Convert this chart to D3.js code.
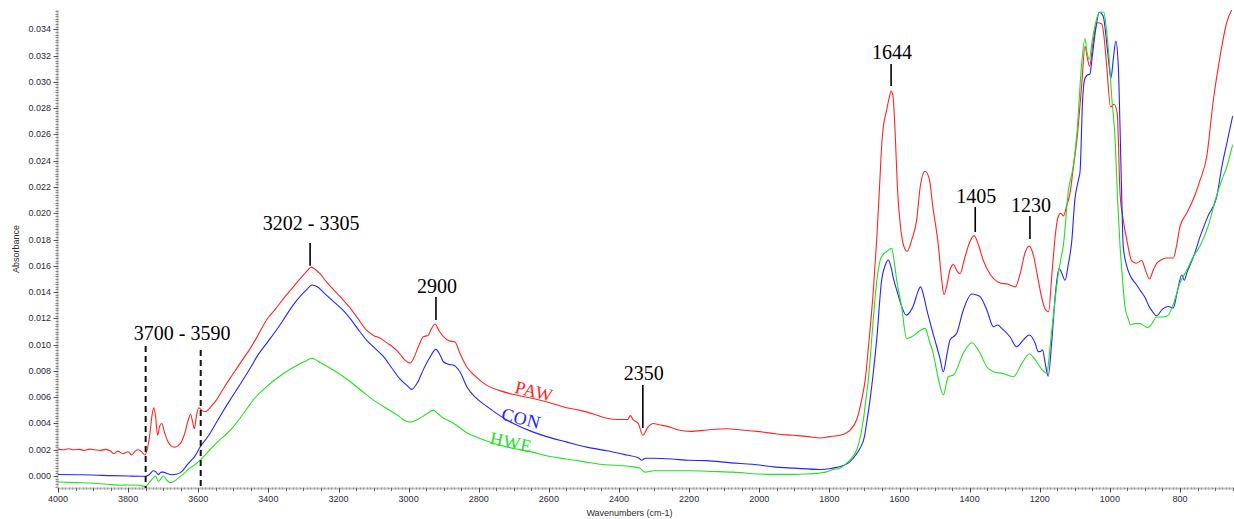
<!DOCTYPE html>
<html>
<head>
<meta charset="utf-8">
<script src="https://cdn.jsdelivr.net/npm/d3@7"></script>
<style>
body { margin: 0; background: #fff; }
svg { display: block; }
</style>
</head>
<body>
<div id="chart"></div>
<script>
// spectra: [wavenumber, absorbance]
var paw = [
  [4000,0.00205],[3985,0.0020],[3970,0.00208],[3955,0.0020],[3940,0.00203],[3925,0.00195],[3910,0.00205],
  [3895,0.0020],[3880,0.00195],[3865,0.00203],[3850,0.0019],[3840,0.0017],[3830,0.0019],[3815,0.0017],
  [3800,0.00185],[3790,0.0016],[3780,0.0019],[3770,0.0020],[3760,0.0018],[3752,0.0016],[3746,0.0020],
  [3738,0.0032],[3732,0.0046],[3727,0.0052],[3722,0.0046],[3716,0.0031],[3710,0.0038],[3704,0.0040],
  [3697,0.0034],[3688,0.0027],[3678,0.0023],[3668,0.0022],[3658,0.0023],[3648,0.0026],[3638,0.0033],
  [3628,0.0043],[3622,0.0047],[3616,0.0041],[3611,0.0036],[3605,0.0046],[3598,0.0052],[3590,0.0050],
  [3580,0.0049],[3570,0.0051],[3560,0.0054],[3548,0.0058],[3525,0.0068],[3500,0.0078],[3475,0.0088],
  [3452,0.0097],[3430,0.0107],[3405,0.0119],[3380,0.0127],[3357,0.0135],[3335,0.0142],[3310,0.0150],
  [3290,0.0156],[3278,0.0159],[3265,0.0157],[3253,0.0154],[3235,0.0148],[3215,0.0142],[3190,0.0135],
  [3167,0.0128],[3145,0.0120],[3120,0.0111],[3100,0.0107],[3082,0.0105],[3060,0.0101],[3044,0.0098],
  [3025,0.0093],[3010,0.0088],[2996,0.0086],[2985,0.0090],[2970,0.0100],[2958,0.0106],[2945,0.0107],
  [2935,0.0112],[2925,0.01157],[2912,0.0110],[2900,0.0106],[2885,0.0103],[2868,0.0102],[2853,0.0093],
  [2834,0.0083],[2810,0.0076],[2777,0.0069],[2740,0.0065],[2700,0.0062],[2645,0.0059],[2600,0.0056],
  [2550,0.0052],[2511,0.0050],[2470,0.0047],[2435,0.0044],[2400,0.0043],[2375,0.0043],[2368,0.0046],
  [2360,0.0043],[2345,0.0040],[2332,0.0031],[2318,0.0037],[2302,0.0040],[2285,0.0039],[2264,0.0038],
  [2230,0.0035],[2197,0.0034],[2150,0.0035],[2093,0.0036],[2050,0.0035],[2007,0.0034],[1950,0.0032],
  [1903,0.0031],[1860,0.0030],[1827,0.0029],[1800,0.0030],[1770,0.0031],[1741,0.0035],[1722,0.0043],
  [1708,0.0058],[1698,0.0073],[1688,0.0100],[1675,0.0140],[1665,0.0180],[1657,0.0220],[1650,0.0255],
  [1645,0.0268],[1638,0.0277],[1630,0.0287],[1624,0.0293],[1619,0.0290],[1613,0.0265],[1606,0.0220],
  [1595,0.0185],[1585,0.0173],[1578,0.0171],[1565,0.0180],[1551,0.0195],[1541,0.0220],[1527,0.0232],
  [1515,0.0226],[1505,0.0205],[1489,0.0175],[1480,0.0150],[1473,0.0138],[1465,0.0145],[1455,0.0158],
  [1446,0.0161],[1436,0.0156],[1427,0.0154],[1415,0.0165],[1400,0.0178],[1387,0.0183],[1375,0.0176],
  [1361,0.0164],[1340,0.0153],[1313,0.0147],[1290,0.0146],[1270,0.0144],[1255,0.0155],[1242,0.0170],
  [1230,0.0175],[1218,0.0168],[1205,0.0150],[1192,0.0133],[1182,0.0126],[1175,0.0125],[1165,0.0155],
  [1155,0.0185],[1148,0.0197],[1140,0.0200],[1132,0.0198],[1124,0.0205],[1114,0.0215],[1104,0.0235],
  [1094,0.0256],[1080,0.0299],[1071,0.0327],[1064,0.0318],[1058,0.0312],[1047,0.0332],[1036,0.0345],
  [1023,0.0344],[1015,0.0330],[1009,0.0312],[998,0.0281],[988,0.0283],[979,0.0276],[971,0.0215],
  [962,0.0195],[952,0.0180],[938,0.0164],[925,0.0162],[909,0.0164],[900,0.0158],[887,0.0150],
  [876,0.0157],[866,0.0162],[857,0.0164],[840,0.0166],[819,0.0166],[810,0.0175],[800,0.0190],
  [781,0.0200],[760,0.0212],[743,0.0225],[724,0.0243],[705,0.0286],[686,0.0319],[667,0.0345],[650,0.0356]
];
var con = [
  [4000,0.00012],[3950,0.0001],[3900,0.00008],[3850,0.00003],[3800,0.0000],[3750,-0.00002],[3740,0.0001],
  [3728,0.0004],[3720,0.0003],[3714,0.0001],[3706,0.0003],[3700,0.0003],[3690,0.0002],[3675,0.0001],
  [3660,0.00015],[3645,0.0004],[3630,0.0009],[3620,0.0012],[3610,0.0015],[3595,0.0022],[3570,0.0031],
  [3550,0.0040],[3530,0.0049],[3509,0.0058],[3480,0.0070],[3452,0.0082],[3430,0.0092],[3405,0.0101],
  [3380,0.0110],[3357,0.0119],[3335,0.0128],[3310,0.01365],[3290,0.0142],[3276,0.01454],[3260,0.0144],
  [3240,0.0139],[3215,0.0133],[3190,0.0127],[3167,0.0120],[3145,0.0112],[3120,0.01035],[3095,0.0097],
  [3072,0.0091],[3050,0.0083],[3025,0.0074],[3005,0.0069],[2991,0.0066],[2975,0.0071],[2958,0.0081],
  [2940,0.0090],[2922,0.00964],[2910,0.0092],[2901,0.0087],[2885,0.0085],[2873,0.00845],[2853,0.0079],
  [2834,0.0068],[2810,0.0060],[2777,0.0053],[2740,0.0046],[2701,0.0040],[2650,0.0034],[2606,0.0030],
  [2550,0.0026],[2492,0.0022],[2430,0.0019],[2378,0.0016],[2345,0.0014],[2335,0.0012],[2325,0.00135],
  [2302,0.00135],[2250,0.0013],[2200,0.0012],[2150,0.00117],[2080,0.0010],[2020,0.0009],[1960,0.0007],
  [1900,0.0006],[1827,0.0005],[1800,0.00055],[1779,0.00066],[1760,0.0008],[1741,0.0011],[1725,0.0016],
  [1713,0.0021],[1700,0.0030],[1694,0.0040],[1684,0.0058],[1675,0.0078],[1665,0.0104],[1651,0.0149],
  [1640,0.0161],[1632,0.01644],[1625,0.0160],[1617,0.0150],[1608,0.01416],[1595,0.0130],[1581,0.01225],
  [1570,0.0125],[1560,0.0130],[1548,0.0140],[1540,0.0144],[1530,0.0136],[1522,0.01264],[1510,0.0114],
  [1499,0.01035],[1485,0.0090],[1475,0.00794],[1465,0.0092],[1456,0.01035],[1437,0.01086],[1418,0.01264],
  [1394,0.01385],[1382,0.0138],[1370,0.01365],[1351,0.01264],[1332,0.01136],[1320,0.0115],[1308,0.01124],
  [1285,0.0106],[1266,0.00984],[1247,0.01035],[1230,0.01073],[1213,0.0101],[1205,0.0095],[1199,0.00946],
  [1192,0.0096],[1184,0.0085],[1176,0.0076],[1165,0.0105],[1155,0.0140],[1145,0.0158],[1138,0.0155],
  [1128,0.0149],[1118,0.0162],[1109,0.0178],[1100,0.0210],[1090,0.0225],[1085,0.0232],[1078,0.0285],
  [1072,0.0302],[1065,0.0305],[1057,0.0306],[1050,0.0320],[1042,0.0337],[1030,0.0353],[1019,0.0350],
  [1010,0.0332],[1004,0.0317],[997,0.0303],[990,0.0318],[983,0.0331],[976,0.0312],[971,0.0265],
  [966,0.0210],[962,0.0175],[952,0.0160],[943,0.0153],[925,0.0146],[910,0.0140],[900,0.0136],
  [890,0.0130],[878,0.0125],[867,0.0122],[850,0.0127],[834,0.0129],[819,0.0128],[808,0.0140],
  [795,0.0153],[788,0.0149],[780,0.0155],[760,0.0168],[743,0.0182],[720,0.0198],[695,0.0213],
  [681,0.0235],[665,0.0255],[650,0.0274]
];
var hwe = [
  [4000,-0.00045],[3950,-0.0005],[3900,-0.00055],[3850,-0.00065],[3820,-0.0007],[3800,-0.00068],
  [3770,-0.0007],[3750,-0.0008],[3740,-0.0005],[3730,-0.0002],[3722,0.0000],[3714,-0.0004],[3706,-0.0002],
  [3700,0.0000],[3690,-0.0003],[3680,-0.0005],[3668,-0.0004],[3655,-0.0001],[3640,0.0002],[3625,0.0006],
  [3612,0.0008],[3595,0.0012],[3570,0.0019],[3545,0.0026],[3520,0.0032],[3500,0.00375],[3470,0.0048],
  [3443,0.0058],[3405,0.0068],[3357,0.0078],[3310,0.00855],[3290,0.0088],[3276,0.00896],[3250,0.0086],
  [3215,0.00807],[3167,0.0072],[3130,0.0064],[3101,0.0058],[3060,0.0051],[3025,0.0045],[3010,0.0042],
  [2996,0.0041],[2975,0.0043],[2950,0.0047],[2930,0.0050],[2915,0.0047],[2900,0.0044],[2877,0.0041],
  [2855,0.0037],[2834,0.0033],[2800,0.0029],[2758,0.0025],[2700,0.0021],[2644,0.0018],[2600,0.0015],
  [2550,0.0013],[2502,0.0011],[2454,0.0009],[2400,0.0008],[2359,0.0007],[2340,0.0006],[2326,0.0003],
  [2300,0.0004],[2264,0.0004],[2200,0.0004],[2130,0.00035],[2074,0.0003],[2000,0.00015],[1960,0.00013],
  [1900,0.00013],[1865,0.00015],[1836,0.0002],[1810,0.0003],[1789,0.0005],[1770,0.0006],[1750,0.0010],
  [1735,0.0014],[1722,0.0020],[1710,0.0032],[1703,0.0043],[1695,0.0060],[1689,0.0073],[1682,0.0095],
  [1675,0.0119],[1665,0.0148],[1655,0.01644],[1645,0.0169],[1636,0.0171],[1622,0.01733],[1615,0.0163],
  [1608,0.0149],[1594,0.0129],[1580,0.01048],[1565,0.0106],[1551,0.01086],[1540,0.0111],[1527,0.01124],
  [1515,0.0103],[1504,0.00934],[1490,0.0075],[1475,0.00617],[1461,0.00756],[1446,0.00769],[1418,0.00934],
  [1394,0.01015],[1370,0.00934],[1351,0.0083],[1332,0.00794],[1304,0.0078],[1275,0.00756],[1251,0.00858],
  [1230,0.00929],[1209,0.0087],[1194,0.0081],[1180,0.00782],[1170,0.0100],[1160,0.0125],[1152,0.0144],
  [1140,0.0165],[1133,0.0175],[1118,0.0218],[1105,0.0235],[1094,0.0261],[1081,0.0312],[1071,0.0333],
  [1065,0.0322],[1059,0.0317],[1050,0.0332],[1043,0.0342],[1030,0.0353],[1017,0.0353],[1010,0.0340],
  [1004,0.0324],[994,0.0286],[985,0.0256],[978,0.0210],[971,0.0175],[964,0.0150],[957,0.0129],
  [948,0.0120],[941,0.0115],[930,0.0116],[914,0.0116],[900,0.0114],[891,0.0113],[880,0.0116],
  [867,0.0121],[850,0.0121],[835,0.0122],[820,0.0130],[800,0.0147],[780,0.0157],[760,0.0168],
  [743,0.0175],[720,0.0190],[696,0.0213],[680,0.0226],[667,0.0235],[650,0.0252]
];

var xTicks = [4000,3800,3600,3400,3200,3000,2800,2600,2400,2200,2000,1800,1600,1400,1200,1000,800];
var yTicks = [0,0.002,0.004,0.006,0.008,0.010,0.012,0.014,0.016,0.018,0.020,0.022,0.024,0.026,0.028,0.030,0.032,0.034];

// peak marks: line from lo to hi (absorbance), label baseline at tv
var peaks = [
  {text:'3202 - 3305', wn:3281, lo:0.0160, hi:0.01773, tv:0.01872},
  {text:'2900', wn:2922, lo:0.01187, hi:0.01362, tv:0.01393},
  {text:'2350', wn:2332, lo:0.00365, hi:0.00693, tv:0.00731},
  {text:'1644', wn:1624, lo:0.02968, hi:0.03136, tv:0.03174},
  {text:'1405', wn:1384, lo:0.01857, hi:0.02048, tv:0.02078},
  {text:'1230', wn:1228, lo:0.01804, hi:0.01979, tv:0.0201}
];
var bandText = '3700 - 3590', bandTextWn = 3646, bandTextV = 0.01035;
var bandWn = [3750, 3593], bandTop = [0.0099, 0.0096];

var names = ['PAW','CON','HWE'];
var colors = ['#ff2424','#2424ff','#22e022'];
var labelWn = [2642, 2679, 2708], labelV = [0.00647, 0.00441, 0.00259], labelRot = [14, 14, 12];

var W = 1234, H = 519;
var padL = 58, padR = 1232.6, padT = 10, padB = 488;

var x = d3.scaleLinear().domain([4000, 650]).range([padL, padR]);
var y = d3.scaleLinear().domain([-0.00091, 0.03547]).range([padB, padT]);

var svg = d3.select('#chart').append('svg').attr('width', W).attr('height', H);

svg.append('defs').append('clipPath').attr('id', 'plot')
  .append('rect').attr('x', padL).attr('y', padT).attr('width', W - padL).attr('height', padB - padT);

// axes
var axisColor = '#9a9a9a', textColor = '#2a2a35';
var sans = '9px "Liberation Sans", Arial, sans-serif';

var yax = svg.append('g').attr('class', 'yaxis');
yax.append('line').attr('x1', padL - 0.5).attr('x2', padL - 0.5).attr('y1', padT).attr('y2', padB)
  .attr('stroke', '#c4c4c4').attr('stroke-width', 2);
yax.selectAll('line.minor').data(d3.range(-0.0008, 0.0355, 0.0002)).enter().append('line')
  .attr('class', 'minor')
  .attr('x1', padL - 2.5).attr('x2', padL + 0.5)
  .attr('y1', function(d){ return Math.round(y(d)) + 0.5; })
  .attr('y2', function(d){ return Math.round(y(d)) + 0.5; })
  .attr('stroke', '#8a8a8a').attr('stroke-width', 1);
yax.selectAll('line.major').data(yTicks).enter().append('line')
  .attr('class', 'major')
  .attr('x1', padL - 4.5).attr('x2', padL)
  .attr('y1', function(d){ return Math.round(y(d)) + 0.5; })
  .attr('y2', function(d){ return Math.round(y(d)) + 0.5; })
  .attr('stroke', '#555').attr('stroke-width', 1);
yax.selectAll('text').data(yTicks).enter().append('text')
  .attr('x', padL - 7).attr('y', function(d){ return y(d) + 3; })
  .attr('text-anchor', 'end')
  .style('font', sans).style('fill', textColor)
  .text(d3.format('.3f'));

var xax = svg.append('g').attr('class', 'xaxis');
xax.append('line').attr('x1', padL - 1).attr('x2', W).attr('y1', padB + 0.5).attr('y2', padB + 0.5)
  .attr('stroke', '#c4c4c4').attr('stroke-width', 2);
xax.selectAll('line.fine').data(d3.range(650, 4001, 10)).enter().append('line')
  .attr('class', 'fine')
  .attr('x1', function(d){ return Math.round(x(d)) + 0.5; })
  .attr('x2', function(d){ return Math.round(x(d)) + 0.5; })
  .attr('y1', padB - 0.5).attr('y2', padB + 1.5)
  .attr('stroke', axisColor).attr('stroke-width', 1);
xax.selectAll('line.minor').data(d3.range(650, 4001, 50)).enter().append('line')
  .attr('class', 'minor')
  .attr('x1', function(d){ return Math.round(x(d)) + 0.5; })
  .attr('x2', function(d){ return Math.round(x(d)) + 0.5; })
  .attr('y1', padB).attr('y2', padB + 3)
  .attr('stroke', '#666').attr('stroke-width', 1);
xax.selectAll('line.major').data(xTicks).enter().append('line')
  .attr('class', 'major')
  .attr('x1', function(d){ return Math.round(x(d)) + 0.5; })
  .attr('x2', function(d){ return Math.round(x(d)) + 0.5; })
  .attr('y1', padB).attr('y2', padB + 4.5)
  .attr('stroke', '#444').attr('stroke-width', 1);
xax.selectAll('text').data(xTicks).enter().append('text')
  .attr('x', function(d){ return x(d); }).attr('y', padB + 14)
  .attr('text-anchor', 'middle')
  .style('font', sans).style('fill', textColor)
  .text(function(d){ return d; });

svg.append('text').attr('x', x(2370)).attr('y', 516).attr('text-anchor', 'middle')
  .style('font', sans).style('fill', textColor)
  .text('Wavenumbers (cm-1)');
svg.append('text').attr('transform', 'translate(19,249) rotate(-90)').attr('text-anchor', 'middle')
  .style('font', sans).style('fill', textColor)
  .text('Absorbance');

// spectra
var line = d3.line()
  .x(function(d){ return x(d[0]); })
  .y(function(d){ return y(d[1]); })
  .curve(d3.curveMonotoneX);

var plot = svg.append('g').attr('clip-path', 'url(#plot)');
[paw, con, hwe].forEach(function(s, i){
  plot.append('path').datum(s)
    .attr('d', line)
    .attr('fill', 'none')
    .attr('stroke', colors[i])
    .attr('stroke-width', 1.1)
    .attr('stroke-linejoin', 'round');
});

// dashed band marks
svg.selectAll('line.band').data(bandWn).enter().append('line')
  .attr('class', 'band')
  .attr('x1', function(d){ return x(d); }).attr('x2', function(d){ return x(d); })
  .attr('y1', function(d, i){ return y(bandTop[i]); }).attr('y2', padB)
  .attr('stroke', '#111').attr('stroke-width', 2).attr('stroke-dasharray', '6,4');

var serif = '"Liberation Serif", "Times New Roman", serif';
svg.append('text').attr('x', x(bandTextWn)).attr('y', y(bandTextV))
  .attr('text-anchor', 'middle').style('font-family', serif).style('font-size', '20px').style('fill', '#000')
  .text(bandText);

var pk = svg.selectAll('g.peak').data(peaks).enter().append('g').attr('class', 'peak');
pk.append('line')
  .attr('x1', function(d){ return x(d.wn); }).attr('x2', function(d){ return x(d.wn); })
  .attr('y1', function(d){ return y(d.hi); }).attr('y2', function(d){ return y(d.lo); })
  .attr('stroke', '#000').attr('stroke-width', 1.6);
pk.append('text')
  .attr('x', function(d){ return x(d.wn) + 1; }).attr('y', function(d){ return y(d.tv); })
  .attr('text-anchor', 'middle').style('font-family', serif).style('font-size', '20px').style('fill', '#000')
  .text(function(d){ return d.text; });

// series labels along the curves
svg.selectAll('text.name').data(names).enter().append('text')
  .attr('class', 'name')
  .attr('transform', function(d, i){
    return 'translate(' + x(labelWn[i]) + ',' + y(labelV[i]) + ') rotate(' + labelRot[i] + ')';
  })
  .attr('text-anchor', 'middle').attr('dy', '0.35em')
  .style('font-family', serif).style('font-size', '18px').style('letter-spacing', '0.5px')
  .style('fill', function(d, i){ return colors[i]; })
  .text(function(d){ return d; });
</script>
</body>
</html>
